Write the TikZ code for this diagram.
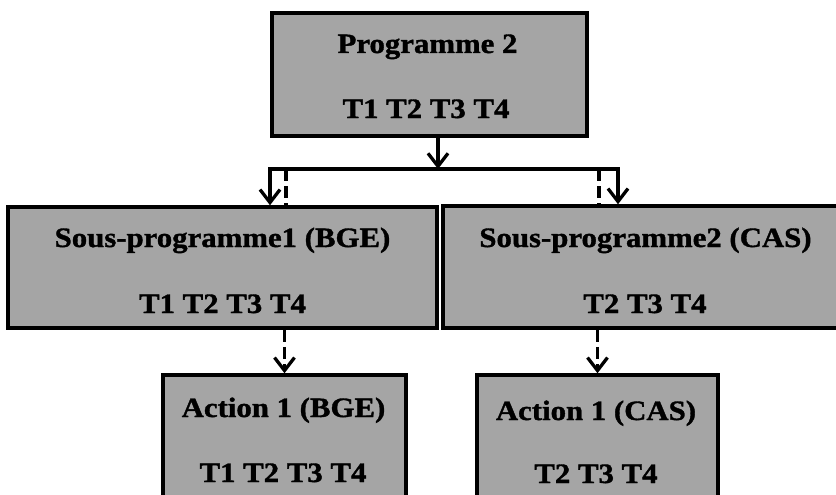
\documentclass[tikz,border=0pt]{standalone}
\usepackage{fontspec}
\setmainfont{Liberation Serif}[FakeStretch=1.1, BoldFeatures={FakeBold=1.3}]
\usetikzlibrary{arrows.meta}
\definecolor{boxgray}{RGB}{165,165,165}
\tikzset{
  box/.style={draw=black, line width=3.5pt, fill=boxgray, inner sep=0pt},
  txt/.style={anchor=base, inner sep=0pt, font=\fontsize{28}{30}\selectfont\bfseries},
  conn/.style={line width=3.3pt, draw=black},
  tip/.style={-{Straight Barb[length=13pt,width=20pt]}},
  dashline/.style={dash pattern=on 12pt off 5pt},
}
\begin{document}
\begin{tikzpicture}[x=1pt,y=-1pt]
\useasboundingbox (0,0) rectangle (836,495);
\clip (0,0) rectangle (836,495);
% boxes
\node[box, minimum width=315pt, minimum height=123pt] (top) at (429.5,74.5) {};
\node[box, minimum width=429pt, minimum height=121pt] (ml) at (222.5,267.5) {};
\node[box, minimum width=397pt, minimum height=122pt] (mr) at (641.5,267) {};
\node[box, minimum width=243pt, minimum height=150pt] (bl) at (284.5,450) {};
\node[box, minimum width=241pt, minimum height=150pt] (br) at (597.5,450) {};
% texts
\node[txt] (top-a) at (427.5,53) {Programme 2};
\node[txt] (top-b) at (426,118) {T1 T2 T3 T4};
\node[txt] (ml-a) at (222.5,247) {Sous-programme1 (BGE)};
\node[txt] (ml-b) at (222.5,313) {T1 T2 T3 T4};
\node[txt] (mr-a) at (645.5,247) {Sous-programme2 (CAS)};
\node[txt] (mr-b) at (645,313) {T2 T3 T4};
\node[txt] (bl-a) at (283.5,417) {Action 1 (BGE)};
\node[txt] (bl-b) at (283,482) {T1 T2 T3 T4};
\node[txt] (br-a) at (596,420) {Action 1 (CAS)};
\node[txt] (br-b) at (596,483) {T2 T3 T4};
% junction coordinates
\coordinate (j) at (438,169);
\coordinate (jl) at (270,169);
\coordinate (jr) at (618,169);
\coordinate (dl) at (286,169);
\coordinate (dr) at (599,169);
% connectors
\draw[conn, tip] (top.south -| j) -- (j);
\draw[conn, {Straight Barb[length=13pt,width=20pt]}-{Straight Barb[length=13pt,width=20pt]}]
  (jl |- ml.north) -- (jl) -- (jr) -- (jr |- mr.north);
\draw[conn, dashline] (dl) -- (dl |- ml.north);
\draw[conn, dashline] (dr) -- (dr |- mr.north);
\draw[conn, dashline, tip] (bl.north |- ml.south) -- (bl.north);
\draw[conn, dashline, tip] (br.north |- mr.south) -- (br.north);
\end{tikzpicture}
\end{document}
